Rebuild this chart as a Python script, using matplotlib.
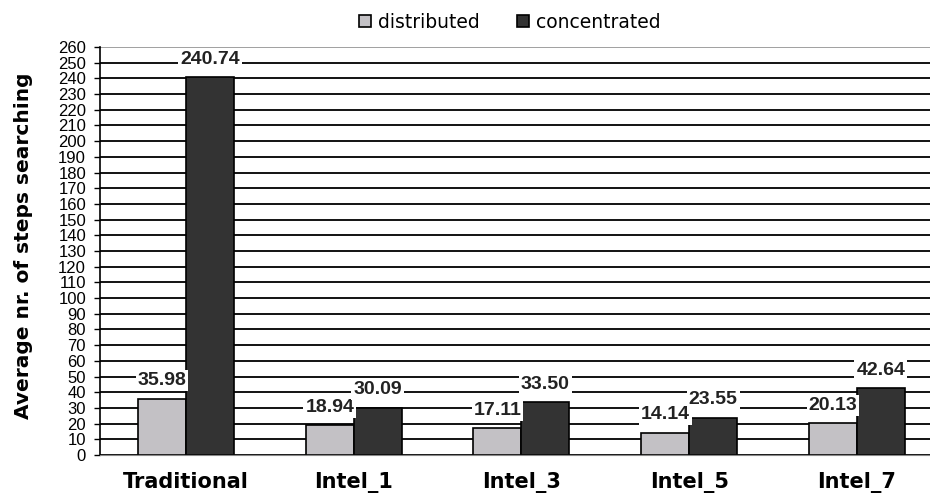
import matplotlib.pyplot as plt
import numpy as np

categories = ['Traditional', 'Intel_1', 'Intel_3', 'Intel_5', 'Intel_7']
distributed = [35.98, 18.94, 17.11, 14.14, 20.13]
concentrated = [240.74, 30.09, 33.50, 23.55, 42.64]
yticks = list(range(0, 261, 10))

plt.rcParams['font.family'] = ['Liberation Sans', 'DejaVu Sans']

fig = plt.figure(figsize=(9.3, 4.94), dpi=100)
ax = fig.add_axes([100 / 930, 39 / 494, 830 / 930, 408 / 494])

x = np.arange(len(categories))
w = 0.286

# horizontal grid, drawn under the bars
for t in yticks[:-1]:
    ax.axhline(t, color='black', lw=1.3, zorder=0)
ax.axhline(260, color='#999999', lw=1.3, zorder=0)

b1 = ax.bar(x - w / 2, distributed, w, color='#c3c1c5', edgecolor='black',
            lw=1.2, label='distributed', zorder=2)
b2 = ax.bar(x + w / 2, concentrated, w, color='#333333', edgecolor='black',
            lw=1.2, label='concentrated', zorder=2)

for bars, vals in ((b1, distributed), (b2, concentrated)):
    for bar, v in zip(bars, vals):
        ax.annotate(f'{v:.2f}', (bar.get_x() + bar.get_width() / 2, v),
                    xytext=(0, 13), textcoords='offset points',
                    ha='center', va='center', fontsize=14,
                    fontweight='bold', color='#222222', zorder=3,
                    bbox=dict(boxstyle='square,pad=0.1', fc='white', ec='none'))

ax.set_xlim(-0.513, 4.436)
ax.set_ylim(0, 260)
ax.set_yticks(yticks)
ax.tick_params(axis='y', labelsize=12, length=4, width=1, pad=6)
ax.set_xticks(x)
ax.set_xticklabels(categories, fontsize=15, fontweight='bold',
                   family='DejaVu Sans')
ax.tick_params(axis='x', length=0, pad=12)

ax.spines['right'].set_visible(False)
ax.spines['top'].set_visible(False)
ax.spines['bottom'].set_color('#888888')
ax.spines['left'].set_linewidth(1.2)

ax.set_ylabel('Average nr. of steps searching', fontsize=14.5,
              fontweight='bold', family='DejaVu Sans')
ax.yaxis.set_label_coords(-67 / 830, (455 - 246) / 408)

fig.legend(handles=[b1, b2], loc='center', bbox_to_anchor=(510 / 930, 1 - 22 / 494),
           ncol=2, frameon=False, prop={'family': 'DejaVu Sans', 'size': 13.5},
           handlelength=0.6, handleheight=0.6, handletextpad=0.4,
           columnspacing=2.0)

fig.savefig('out.png', dpi=100)
